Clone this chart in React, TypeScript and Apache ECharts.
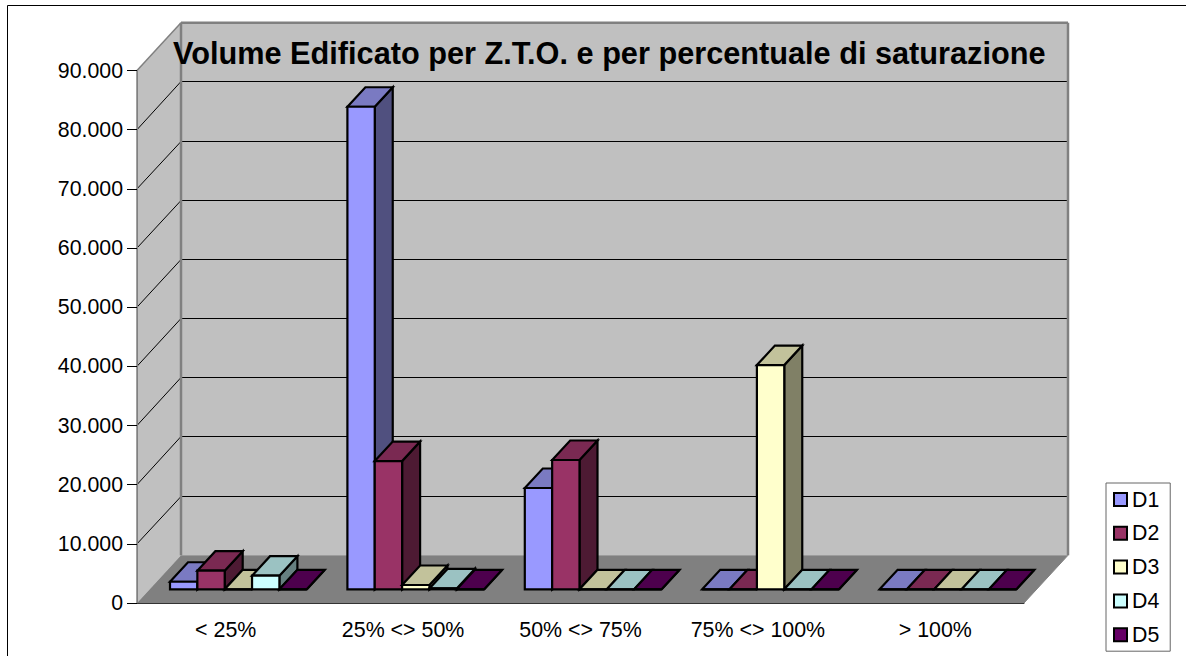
import React, { useEffect, useRef } from "react";
import * as echarts from "echarts";

const categories = ["< 25%", "25% <> 50%", "50% <> 75%", "75% <> 100%", "> 100%"];
const seriesNames = ["D1", "D2", "D3", "D4", "D5"];
const d1 = [1280, 81560, 17120, 0, 0];
const d2 = [3140, 21680, 21850, 0, 0];
const d3 = [0, 730, 0, 37900, 0];
const d4 = [2300, 150, 0, 0, 0];
const d5 = [0, 0, 0, 0, 0];
const seriesValues = [d1, d2, d3, d4, d5];

const frontColors = ["#9999FF", "#993366", "#FFFFCC", "#CCFFFF", "#660066"];
const topColors = ["#7A7AC2", "#7A2952", "#C2C29B", "#9BC2C2", "#4D004D"];
const sideColors = ["#50507F", "#4D1A33", "#808066", "#668080", "#330033"];

const WALL_DX = 44;
const WALL_DY = -47.7;
const BAR_DX = 18;
const BAR_DY = -19.5;
const BAR_LIFT = 13.7;
const BAR_SHIFT = 33;
const BAR_W = 27.35;

const fmt = (v: number) => (v === 0 ? "0" : String(v / 1000) + ".000");

function poly(points: number[][], fill: string, stroke = "#000", lineWidth = 2.2) {
  return { type: "polygon", shape: { points }, style: { fill, stroke, lineWidth, lineJoin: "miter" } };
}
function ln(a: number[], b: number[], stroke: string, lineWidth: number) {
  return { type: "line", shape: { x1: a[0], y1: a[1], x2: b[0], y2: b[1] }, style: { stroke, lineWidth } };
}

function renderWalls(params: any, api: any) {
  const c = params.coordSys;
  const L = c.x, R = c.x + c.width, T = c.y, B = c.y + c.height;
  const dx = WALL_DX, dy = WALL_DY;
  const children: any[] = [
    poly([[L, T], [L + dx, T + dy], [L + dx, B + dy], [L, B]], "#C0C0C0", "none", 0),
    poly([[L + dx, T + dy], [R + dx, T + dy], [R + dx, B + dy], [L + dx, B + dy]], "#C0C0C0", "none", 0),
    poly([[L, B], [L + dx, B + dy], [R + dx, B + dy], [R, B]], "#808080", "none", 0),
  ];
  for (let v = 10000; v < 90000; v += 10000) {
    const y = api.coord([0, v])[1];
    const by = Math.floor(y + dy) + 0.5;
    children.push(ln([L, y], [L + dx, by], "#000", 1));
    children.push(ln([L + dx, by], [R + dx, by], "#000", 1));
  }
  children.push(ln([L, T], [L, B], "#808080", 1.5));
  children.push(ln([L, T], [L + dx, T + dy], "#808080", 1.5));
  children.push(ln([L + dx, T + dy], [R + dx, T + dy], "#808080", 2.5));
  children.push(ln([L + dx, T + dy], [L + dx, B + dy], "#808080", 2.5));
  children.push(ln([R + dx, T + dy], [R + dx, B + dy], "#808080", 2.5));
  children.push(ln([R, B], [R + dx, B + dy], "#808080", 1));
  return { type: "group", children };
}

function makeBarRenderer(idx: number) {
  return (_params: any, api: any) => {
    const cat = api.value(0);
    const val = api.value(1);
    const base = api.coord([cat, 0]);
    const top = api.coord([cat, val]);
    const band = api.size([1, 0])[0];
    const x0 = base[0] - band / 2 + BAR_SHIFT + idx * BAR_W;
    const x1 = x0 + BAR_W;
    const yb = base[1] - BAR_LIFT;
    const yt = yb - (base[1] - top[1]);
    return {
      type: "group",
      children: [
        poly([[x1, yb], [x1 + BAR_DX, yb + BAR_DY], [x1 + BAR_DX, yt + BAR_DY], [x1, yt]], sideColors[idx]),
        poly([[x0, yt], [x0 + BAR_DX, yt + BAR_DY], [x1 + BAR_DX, yt + BAR_DY], [x1, yt]], topColors[idx]),
        poly([[x0, yb], [x1, yb], [x1, yt], [x0, yt]], frontColors[idx]),
      ],
    };
  };
}

export default function App() {
  const ref = useRef<HTMLDivElement>(null);
  useEffect(() => {
    const chart = echarts.init(ref.current!, undefined, { renderer: "svg" });
    const font = "'Liberation Sans', Arial, sans-serif";
    chart.setOption({
      animation: false,
      backgroundColor: "#fff",
      title: {
        text: "Volume Edificato per Z.T.O. e per percentuale di saturazione",
        left: 173,
        top: 38,
        padding: 0,
        textStyle: { fontFamily: font, fontSize: 30.7, fontWeight: "bold", color: "#000" },
      },
      legend: {
        orient: "vertical",
        left: 1106,
        top: 483,
        backgroundColor: "#fff",
        borderColor: "#666",
        borderWidth: 1,
        padding: [6, 11, 6, 7],
        itemGap: 12.8,
        itemWidth: 13,
        itemHeight: 13,
        selectedMode: false,
        textStyle: { fontFamily: font, fontSize: 21.3, color: "#000", padding: [0, 0, 0, 0] },
        data: seriesNames.map((name, i) => ({
          name,
          icon: "rect",
          itemStyle: { color: frontColors[i], borderColor: "#000", borderWidth: 2 },
        })),
      },
      grid: { left: 137, right: 162, top: 70.5, bottom: 53 },
      xAxis: {
        type: "category",
        data: categories,
        z: 5,
        axisLine: { lineStyle: { color: "#333", width: 1 } },
        axisTick: { length: 9.5, lineStyle: { color: "#333", width: 1 } },
        axisLabel: { color: "#000", fontFamily: font, fontSize: 21.4, margin: 16 },
        splitLine: { show: false },
      },
      yAxis: {
        type: "value",
        min: 0,
        max: 90000,
        interval: 10000,
        z: 5,
        axisLine: { show: true, lineStyle: { color: "#808080", width: 1 } },
        axisTick: { show: true, length: 10, lineStyle: { color: "#000", width: 1 } },
        axisLabel: { color: "#000", fontFamily: font, fontSize: 21.3, margin: 14, formatter: fmt },
        splitLine: { show: false },
      },
      graphic: [
        { type: "line", shape: { x1: 7.5, y1: 5.5, x2: 1186, y2: 5.5 }, style: { stroke: "#000", lineWidth: 1 } },
        { type: "line", shape: { x1: 7.5, y1: 5.5, x2: 7.5, y2: 656 }, style: { stroke: "#000", lineWidth: 1 } },
      ],
      series: [
        {
          name: "walls",
          type: "custom",
          z: 1,
          silent: true,
          clip: false,
          coordinateSystem: "cartesian2d",
          renderItem: renderWalls,
          data: [[0, 0]],
          encode: { x: 0, y: 1 },
        },
        ...seriesNames.map((name, i) => ({
          name,
          type: "custom",
          z: 2,
          clip: false,
          coordinateSystem: "cartesian2d",
          itemStyle: { color: frontColors[i] },
          renderItem: makeBarRenderer(i),
          data: seriesValues[i].map((v, c) => [c, v]),
          encode: { x: 0, y: 1 },
        })),
      ],
    });
    return () => chart.dispose();
  }, []);
  return <div ref={ref} style={{ position: "absolute", left: 0, top: 0, width: 1186, height: 656 }} />;
}
